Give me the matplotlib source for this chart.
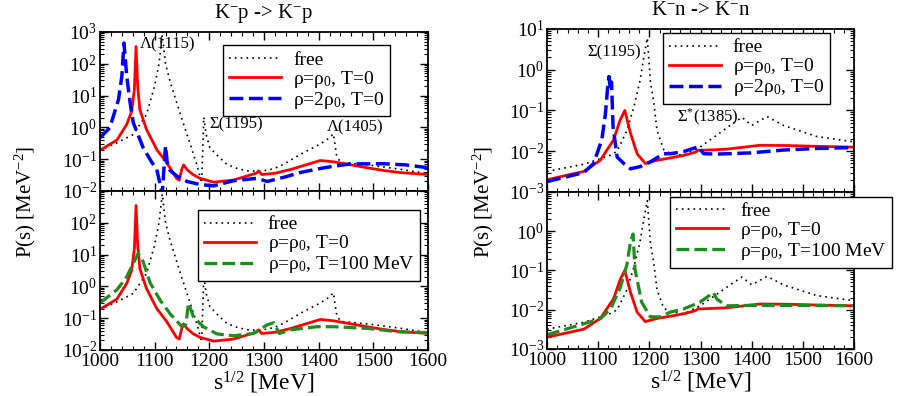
import numpy as np
import matplotlib.pyplot as plt
from matplotlib.ticker import LogLocator, MultipleLocator, NullFormatter, FuncFormatter

plt.rcParams['font.family'] = ['Liberation Serif', 'DejaVu Serif']
plt.rcParams['mathtext.fontset'] = 'custom'
plt.rcParams['mathtext.rm'] = 'Liberation Serif'
plt.rcParams['mathtext.it'] = 'Liberation Serif:italic'
plt.rcParams['mathtext.bf'] = 'Liberation Serif:bold'

# ---- K- p -> K- p ----
kp_free_x = [1000, 1030, 1061, 1085, 1100, 1108, 1114, 1120, 1128, 1147, 1165, 1177, 1186,
             1190, 1194, 1201, 1215, 1232, 1250, 1269, 1290, 1306, 1320, 1336, 1366, 1403,
             1420, 1427, 1433, 1440, 1460, 1500, 1550, 1600]
kp_free_y = [0.19, 0.32, 0.60, 2.5, 20, 100, 800, 100, 29, 2.6, 0.30, 0.069, 0.018,
             2.1, 0.63, 0.23, 0.13, 0.069, 0.052, 0.043, 0.042, 0.045, 0.052, 0.069, 0.14, 0.30,
             0.47, 0.63, 0.13, 0.079, 0.074, 0.063, 0.048, 0.035]

kp_rho1_x = [1000, 1031, 1049, 1058, 1063, 1066, 1069, 1073, 1085, 1104, 1122, 1140, 1145,
             1150, 1153, 1159, 1170, 1183, 1208, 1244, 1270, 1287, 1290, 1296, 1320, 1350,
             1380, 1403, 1427, 1460, 1488, 1520, 1549, 1600]
kp_rho1_y = [0.19, 0.40, 1.25, 3.2, 16, 350, 20, 3.6, 0.87, 0.20, 0.079, 0.025, 0.022,
             0.050, 0.066, 0.048, 0.033, 0.025, 0.019, 0.022, 0.030, 0.037, 0.043, 0.033, 0.036, 0.048,
             0.069, 0.091, 0.083, 0.066, 0.054, 0.044, 0.038, 0.033]

kp_rho2_x = [1000, 1018, 1034, 1040, 1044, 1049, 1055, 1061, 1079, 1095, 1104, 1110, 1114,
             1117, 1120, 1123, 1128, 1140, 1159, 1183, 1208, 1244, 1287, 1306, 1340, 1366,
             1400, 1427, 1458, 1519, 1560, 1600]
kp_rho2_y = [0.47, 0.98, 7.6, 40, 450, 40, 6.3, 1.4, 0.23, 0.079, 0.048, 0.016, 0.008,
             0.05, 0.26, 0.079, 0.045, 0.030, 0.020, 0.016, 0.0145, 0.021, 0.025, 0.020, 0.028, 0.038,
             0.050, 0.060, 0.071, 0.072, 0.066, 0.054]

kp_t100_x = [1000, 1031, 1049, 1061, 1070, 1079, 1092, 1110, 1128, 1150, 1157, 1162, 1171,
             1189, 1214, 1244, 1281, 1306, 1318, 1328, 1349, 1397, 1427, 1488, 1549, 1600]
kp_t100_y = [0.30, 0.78, 2.0, 5.4, 11, 6.0, 1.26, 0.37, 0.14, 0.054, 0.063, 0.30, 0.11,
             0.054, 0.032, 0.028, 0.033, 0.062, 0.072, 0.033, 0.043, 0.054, 0.054, 0.048, 0.037, 0.035]

# ---- K- n -> K- n ----
kn_free_x = [1000, 1072, 1124, 1137, 1156, 1170, 1182, 1189, 1196, 1202, 1208, 1215, 1228,
             1240, 1267, 1299, 1332, 1360, 1381, 1400, 1430, 1462, 1527, 1600]
kn_free_y = [0.0032, 0.0048, 0.0080, 0.010, 0.032, 0.126, 0.56, 2.0, 6.0, 0.5, 0.18, 0.032, 0.011,
             0.0089, 0.0079, 0.0126, 0.025, 0.045, 0.068, 0.043, 0.071, 0.043, 0.023, 0.017]

kn_rho1_x = [1000, 1072, 1104, 1130, 1143, 1152, 1163, 1176, 1192, 1215, 1234, 1267, 1290,
             1296, 1299, 1350, 1416, 1470, 1527, 1600]
kn_rho1_y = [0.0020, 0.0032, 0.0060, 0.019, 0.059, 0.10, 0.028, 0.0087, 0.0050, 0.0060, 0.0066,
             0.0079, 0.0095, 0.0107, 0.0105, 0.0112, 0.0140, 0.0138, 0.0132, 0.0126]

kn_rho2_x = [1000, 1072, 1091, 1107, 1114, 1118, 1121, 1124, 1126, 1129, 1137, 1150, 1163,
             1182, 1202, 1228, 1241, 1267, 1296, 1306, 1332, 1397, 1462, 1527, 1600]
kn_rho2_y = [0.0018, 0.0030, 0.0050, 0.019, 0.08, 0.32, 0.68, 0.32, 0.50, 0.04, 0.0072, 0.0050,
             0.0037, 0.0042, 0.0055, 0.0087, 0.0087, 0.0098, 0.0129, 0.0087, 0.0085, 0.0091,
             0.0107, 0.0117, 0.0123]

kn_t100_x = [1000, 1072, 1104, 1124, 1143, 1156, 1163, 1168, 1172, 1185, 1202, 1221, 1241,
             1267, 1299, 1325, 1332, 1351, 1397, 1500, 1600]
kn_t100_y = [0.0023, 0.0044, 0.0059, 0.0105, 0.036, 0.14, 0.52, 0.85, 0.105, 0.0155, 0.0066,
             0.0066, 0.0087, 0.0105, 0.0155, 0.0275, 0.0186, 0.0126, 0.0129, 0.0129, 0.0126]

RED = '#ff0000'
BLUE = '#0000ff'
GREEN = '#1e8c1e'

fig = plt.figure(figsize=(9.03, 3.96), dpi=100)
ax_lt = fig.add_axes([0.1107, 0.5177, 0.3632, 0.4015])
ax_lb = fig.add_axes([0.1107, 0.1162, 0.3632, 0.4015])
ax_rt = fig.add_axes([0.6058, 0.5152, 0.3400, 0.4116])
ax_rb = fig.add_axes([0.6058, 0.1187, 0.3400, 0.3965])

free_kw = dict(color='black', lw=1.2, ls=(0, (1, 2.5)), label='free')
red_kw = dict(color=RED, lw=2.0, ls='-', label=r'ρ=ρ$_0$, T=0')
blue_kw = dict(color=BLUE, lw=2.5, ls=(0, (4, 1.6)), label=r'ρ=2ρ$_0$, T=0')
green_kw = dict(color=GREEN, lw=2.3, ls=(0, (4, 1.6)), label=r'ρ=ρ$_0$, T=100 MeV')

ax_lt.plot(kp_free_x, kp_free_y, **free_kw)
ax_lt.plot(kp_rho1_x, kp_rho1_y, **red_kw)
ax_lt.plot(kp_rho2_x, kp_rho2_y, **blue_kw)

ax_lb.plot(kp_free_x, kp_free_y, **free_kw)
ax_lb.plot(kp_rho1_x, kp_rho1_y, **red_kw)
ax_lb.plot(kp_t100_x, kp_t100_y, **green_kw)

ax_rt.plot(kn_free_x, kn_free_y, **free_kw)
ax_rt.plot(kn_rho1_x, kn_rho1_y, **red_kw)
ax_rt.plot(kn_rho2_x, kn_rho2_y, **blue_kw)

ax_rb.plot(kn_free_x, kn_free_y, **free_kw)
ax_rb.plot(kn_rho1_x, kn_rho1_y, **red_kw)
ax_rb.plot(kn_t100_x, kn_t100_y, **green_kw)


def log_label(hide_top):
    def fmt(v, pos, hide_top=hide_top):
        n = int(round(np.log10(v)))
        if n == hide_top:
            return ''
        return r'$\mathdefault{10^{%d}}$' % n
    return FuncFormatter(fmt)


panels = [(ax_lt, 1e-2, 1e3, None), (ax_lb, 1e-2, 1e3, 3),
          (ax_rt, 1e-3, 1e1, None), (ax_rb, 1e-3, 1e1, 1)]
for ax, ylo, yhi, hide in panels:
    ax.set_yscale('log')
    ax.set_xlim(1000, 1600)
    ax.set_ylim(ylo, yhi)
    ax.xaxis.set_major_locator(MultipleLocator(100))
    ax.xaxis.set_minor_locator(MultipleLocator(20))
    ax.yaxis.set_major_locator(LogLocator(base=10, numticks=20))
    ax.yaxis.set_minor_locator(LogLocator(base=10, subs=np.arange(2, 10), numticks=20))
    ax.yaxis.set_major_formatter(log_label(hide))
    ax.yaxis.set_minor_formatter(NullFormatter())
    ax.tick_params(which='both', direction='in', top=True, right=True, labelsize=14, pad=2)
    ax.tick_params(which='major', length=6, width=1.0)
    ax.tick_params(which='minor', length=3, width=0.8)
    for s in ax.spines.values():
        s.set_linewidth(1.3)

for ax in (ax_lt, ax_rt):
    ax.tick_params(labelbottom=False)

for ax in (ax_lb, ax_rb):
    ax.set_xlabel(r's$^{1/2}$ [MeV]', fontsize=17, labelpad=0)

ax_lt.set_title(r'K$^{-}$p -> K$^{-}$p', fontsize=15, pad=10)
ax_rt.set_title(r'K$^{-}$n -> K$^{-}$n', fontsize=15, pad=10)

fig.text(0.028, 0.49, r'P(s) [MeV$^{-2}$]', rotation=90, fontsize=15, ha='center', va='center')
fig.text(0.535, 0.49, r'P(s) [MeV$^{-2}$]', rotation=90, fontsize=15, ha='center', va='center')

ann_kw = dict(fontsize=12, ha='left', va='center')
ax_lt.text(1073, 10 ** 2.6, 'Λ(1115)', **ann_kw)
ax_lt.text(1201, 10 ** 0.08, 'Σ(1195)', **ann_kw)
ax_lt.text(1415, 10 ** 0.0, 'Λ(1405)', **ann_kw)
ax_rt.text(1078, 10 ** 0.43, 'Σ(1195)', **ann_kw)
ax_rt.text(1254, 10 ** -1.16, r'Σ$^{*}$(1385)', **ann_kw)

leg_kw = dict(loc='upper left', fontsize=14, handlelength=2.7, handletextpad=0.6,
              labelspacing=0.0, borderpad=0.3, borderaxespad=0, fancybox=False,
              framealpha=1, edgecolor='black', bbox_transform=fig.transFigure)
for ax, anchor in [(ax_lt, (0.247, 0.886)), (ax_lb, (0.219, 0.470)),
                   (ax_rt, (0.734, 0.917)), (ax_rb, (0.742, 0.503))]:
    leg = ax.legend(bbox_to_anchor=anchor, **leg_kw)
    leg.get_frame().set_linewidth(1.0)

fig.savefig('out.png', dpi=100)
